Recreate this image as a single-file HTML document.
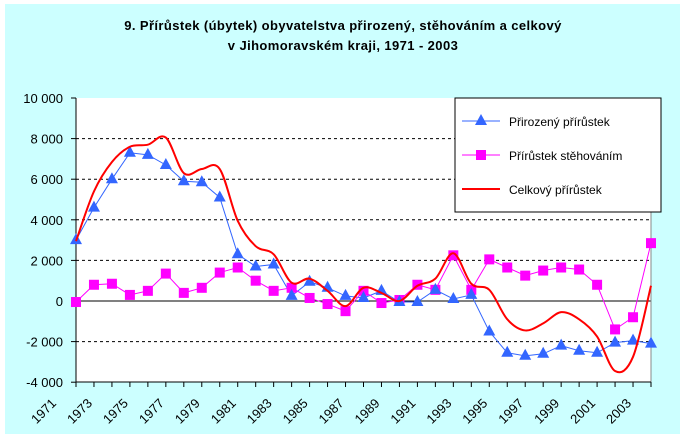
<!DOCTYPE html>
<html><head><meta charset="utf-8"><style>
body{margin:0;background:#fff}
svg{display:block;font-family:"Liberation Sans",Arial,sans-serif}
</style></head><body>
<svg id="s" width="684" height="439" xmlns="http://www.w3.org/2000/svg">
<rect x="5" y="4" width="675" height="430" fill="#ccffff"/>
<text x="343" y="30" text-anchor="middle" font-size="13" font-weight="bold" letter-spacing="0.4">9. Přírůstek (úbytek) obyvatelstva přirozený, stěhováním a celkový</text>
<text x="343" y="50" text-anchor="middle" font-size="13" font-weight="bold" letter-spacing="0.4">v Jihomoravském kraji, 1971 - 2003</text>
<rect x="76" y="98" width="575" height="284" fill="#fff"/>
<g id="g"></g>
<rect x="455" y="98" width="206" height="114" fill="#fff" stroke="#000"/>
<line x1="462" y1="121" x2="500" y2="121" stroke="#3366ff"/>
<polygon points="481,114 475,125 487,125" fill="#3366ff"/>
<text x="509" y="126" font-size="12">Přirozený přírůstek</text>
<line x1="462" y1="155" x2="500" y2="155" stroke="#ff00ff"/>
<rect x="476" y="150" width="10" height="10" fill="#ff00ff"/>
<text x="509" y="160" font-size="12">Přírůstek stěhováním</text>
<line x1="462" y1="189" x2="500" y2="189" stroke="#ff0000" stroke-width="2"/>
<text x="509" y="194" font-size="12">Celkový přírůstek</text>
</svg>
<script>
var nat=[3000,4600,6000,7300,7200,6700,5900,5850,5100,2300,1700,1800,250,950,650,250,150,500,-50,-50,550,100,300,-1500,-2550,-2700,-2600,-2200,-2450,-2550,-2050,-1950,-2100];
var mig=[-50,800,850,300,500,1350,400,650,1400,1650,1000,500,650,150,-150,-500,500,-100,50,800,550,2250,550,2050,1650,1250,1500,1650,1550,800,-1400,-800,2850];
var X=i=>76+i*575/32, Y=v=>301-v*0.0203;
var h='';
for(var v=-4000;v<=10000;v+=2000){var y=Y(v);
 if(v>-4000&&v<10000&&v!=0)h+='<line x1="76" y1="'+y+'" x2="651" y2="'+y+'" stroke="#000" stroke-dasharray="3,3"/>';
 h+='<line x1="71" y1="'+y+'" x2="76" y2="'+y+'" stroke="#000"/>';
 h+='<text x="63" y="'+(y+5)+'" text-anchor="end" font-size="13">'+(v<0?'-':'')+(Math.abs(v)>=1000?Math.floor(Math.abs(v)/1000)+' 000':'0')+'</text>';}
h+='<line x1="76" y1="301" x2="651" y2="301" stroke="#000"/>';
h+='<line x1="76" y1="98" x2="76" y2="382" stroke="#000"/><line x1="651" y1="98" x2="651" y2="382" stroke="#888"/><line x1="76" y1="382" x2="651" y2="382" stroke="#000"/>';
for(var i=0;i<33;i++){var x=X(i);h+='<line x1="'+x+'" y1="382" x2="'+x+'" y2="387" stroke="#000"/>';
 if(i%2==0)h+='<text transform="translate('+(x-19)+',404) rotate(-45)" text-anchor="end" font-size="13">'+(1971+i)+'</text>';}
var tot=nat.map((a,i)=>a+mig[i]);
var p=tot.map((v,i)=>[X(i),Y(v)]);
var d='M'+p[0];
for(var i=0;i<p.length-1;i++){var p0=p[Math.max(0,i-1)],p1=p[i],p2=p[i+1],p3=p[Math.min(p.length-1,i+2)];
 d+=' C'+(p1[0]+(p2[0]-p0[0])/6)+','+(p1[1]+(p2[1]-p0[1])/6)+' '+(p2[0]-(p3[0]-p1[0])/6)+','+(p2[1]-(p3[1]-p1[1])/6)+' '+p2;}
h+='<polyline fill="none" stroke="#3366ff" points="'+nat.map((v,i)=>X(i)+','+Y(v)).join(' ')+'"/>';
h+='<polyline fill="none" stroke="#ff00ff" points="'+mig.map((v,i)=>X(i)+','+Y(v)).join(' ')+'"/>';
mig.forEach((v,i)=>{h+='<rect x="'+(X(i)-5)+'" y="'+(Y(v)-5)+'" width="10" height="10" fill="#ff00ff"/>';});
nat.forEach((v,i)=>{var x=X(i),y=Y(v);h+='<polygon points="'+x+','+(y-7)+' '+(x-6)+','+(y+4)+' '+(x+6)+','+(y+4)+'" fill="#3366ff"/>';});
h+='<path d="'+d+'" fill="none" stroke="#ff0000" stroke-width="2"/>';
document.getElementById('g').innerHTML=h;
</script>
</body></html>
